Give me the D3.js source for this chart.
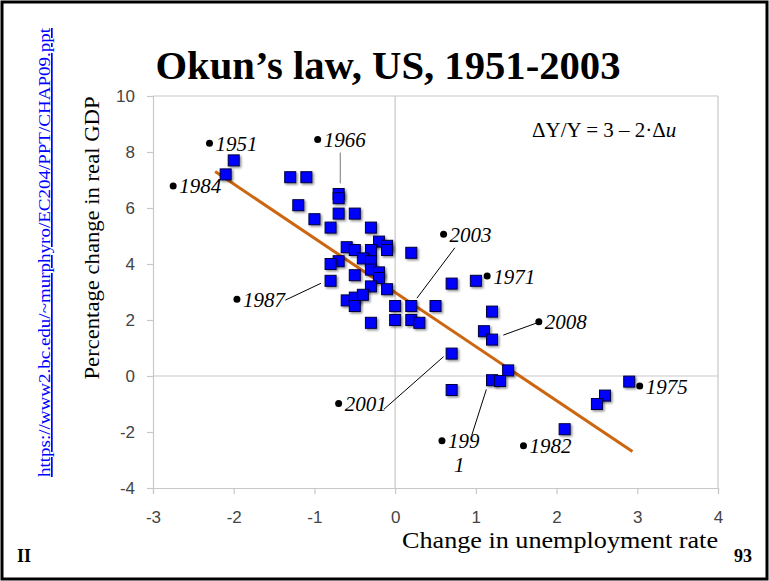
<!DOCTYPE html>
<html>
<head>
<meta charset="utf-8">
<script src="https://cdn.jsdelivr.net/npm/d3@7"></script>
<style>
  body { margin: 0; background: #fff; }
  svg { display: block; }
</style>
</head>
<body>
<script>
// change in unemployment rate (x) vs percentage change in real GDP (y)
var duRate = [-2.0, -2.1, -1.3, -1.1, -0.7, -0.7, -1.2, -0.7, -0.5, -1.0,
              -0.8, -0.3, -0.2, -0.1, -0.1, -0.6, -0.5, -0.3, 0.2, -0.4,
              -0.3, -0.7, -0.8, -0.3, -0.2, -0.2, -0.5, -0.8, -0.3, -0.1,
              -0.6, -0.5, -0.5, -0.4, 0.0, 0.2, -0.3, 0.0, 0.2, 0.3,
              0.7, 1.0, 0.5, 1.2, 1.1, 1.2, 0.7, 1.4, 1.2, 1.3,
              0.7, 2.9, 2.6, 2.5, 2.1]
var gdpGrowth = [7.7, 7.2, 7.1, 7.1, 6.5, 6.35, 6.1, 5.8, 5.8, 5.6,
                 5.3, 5.3, 4.8, 4.65, 4.5, 4.6, 4.5, 4.5, 4.4, 4.2,
                 4.1, 4.1, 4.0, 3.8, 3.7, 3.5, 3.6, 3.4, 3.2, 3.1,
                 2.7, 2.8, 2.5, 2.9, 2.5, 2.5, 1.9, 2.0, 2.0, 1.9,
                 3.3, 3.4, 2.5, 2.3, 1.6, 1.3, 0.8, 0.2, -0.15, -0.18,
                 -0.5, -0.2, -0.7, -1.0, -1.9]

// fitted line ends
var trendX = [-2.23, 2.94]
var trendY = [7.3, -2.7]

// labelled years: dot position and leader line (data units)
var yearNames = ['1951', '1984', '1966', '1987', '2003', '1971', '2008', '2001', '1975', '199', '1982']
var yearX = [-2.3, -2.75, -0.96, -1.96, 0.6, 1.14, 1.78, -0.7, 3.03, 0.58, 1.59]
var yearY = [8.31, 6.79, 8.45, 2.74, 5.06, 3.57, 1.94, -0.98, -0.36, -2.31, -2.49]
var leaders = [
  { x1: -0.68, y1: 7.98, x2: -0.68, y2: 6.88, c: '#777' },
  { x1: -1.36, y1: 2.71, x2: -0.92, y2: 3.31, c: '#000' },
  { x1: 0.74, y1: 4.58, x2: 0.27, y2: 2.78, c: '#000' },
  { x1: 1.76, y1: 1.90, x2: 1.34, y2: 1.46, c: '#000' },
  { x1: -0.14, y1: -1.19, x2: 0.6, y2: 0.69, c: '#000' },
  { x1: 0.95, y1: -2.11, x2: 1.13, y2: -0.48, c: '#000' }
]

var xTicks = [-3, -2, -1, 0, 1, 2, 3, 4]
var yTicks = [-4, -2, 0, 2, 4, 6, 8, 10]

var W = 769, H = 581
var serif = '"Liberation Serif", "DejaVu Serif", serif'
var sans = '"Liberation Sans", Arial, sans-serif'

var svg = d3.select('body').append('svg').attr('width', W).attr('height', H)

var defs = svg.append('defs')
var f = defs.append('filter').attr('id', 'sh').attr('x', '-50%').attr('y', '-50%').attr('width', '200%').attr('height', '200%')
f.append('feDropShadow').attr('dx', 1.5).attr('dy', 1.5).attr('stdDeviation', 1)
  .attr('flood-color', '#000').attr('flood-opacity', 0.45)

// slide frame
svg.append('rect').attr('x', 2).attr('y', 2).attr('width', W - 4).attr('height', H - 4)
  .attr('fill', 'none').attr('stroke', '#000').attr('stroke-width', 3)

var x = d3.scaleLinear().domain([-3, 4]).range([153, 718])
var y = d3.scaleLinear().domain([-4, 10]).range([488, 96])

// plot frame and zero lines
var grid = svg.append('g').attr('stroke', '#c8c8c8').attr('stroke-width', 1.2)
grid.append('line').attr('x1', x(-3)).attr('x2', x(4)).attr('y1', y(10)).attr('y2', y(10))
grid.append('line').attr('x1', x(4)).attr('x2', x(4)).attr('y1', y(10)).attr('y2', y(-4))
grid.append('line').attr('x1', x(0)).attr('x2', x(0)).attr('y1', y(10)).attr('y2', y(-4))
grid.append('line').attr('x1', x(-3)).attr('x2', x(4)).attr('y1', y(0)).attr('y2', y(0))

var plain = function (d) { return String(d) }
var gx = svg.append('g').attr('transform', 'translate(0,' + y(-4) + ')')
  .call(d3.axisBottom(x).tickValues(xTicks).tickSize(6).tickPadding(17).tickFormat(plain))
var gy = svg.append('g').attr('transform', 'translate(' + x(-3) + ',0)')
  .call(d3.axisLeft(y).tickValues(yTicks).tickSize(6).tickPadding(12).tickFormat(plain))
;[gx, gy].forEach(function (g) {
  g.select('.domain').attr('stroke', '#c8c8c8').attr('stroke-width', 1.2)
  g.selectAll('.tick line').attr('stroke', '#c8c8c8').attr('stroke-width', 1.2)
  g.selectAll('.tick text').attr('fill', '#444').style('font-family', sans).style('font-size', '17px')
})

// trend line
svg.append('line')
  .attr('x1', x(trendX[0])).attr('y1', y(trendY[0]))
  .attr('x2', x(trendX[1])).attr('y2', y(trendY[1]))
  .attr('stroke', '#cc6611').attr('stroke-width', 3)

// data squares
var s = 11
svg.append('g').selectAll('rect').data(d3.range(duRate.length))
  .enter().append('rect')
  .attr('x', function (i) { return x(duRate[i]) - s / 2 })
  .attr('y', function (i) { return y(gdpGrowth[i]) - s / 2 })
  .attr('width', s).attr('height', s)
  .attr('fill', '#0000ff').attr('stroke', '#000040').attr('stroke-width', 1)
  .attr('filter', 'url(#sh)')

// leader lines
svg.append('g').selectAll('line').data(leaders).enter().append('line')
  .attr('x1', function (d) { return x(d.x1) }).attr('y1', function (d) { return y(d.y1) })
  .attr('x2', function (d) { return x(d.x2) }).attr('y2', function (d) { return y(d.y2) })
  .attr('stroke', function (d) { return d.c }).attr('stroke-width', 1)

// year dots and labels
var yl = svg.append('g').selectAll('g').data(d3.range(yearNames.length)).enter().append('g')
  .attr('transform', function (i) { return 'translate(' + x(yearX[i]) + ',' + y(yearY[i]) + ')' })
yl.append('circle').attr('r', 3.5).attr('fill', '#000')
yl.append('text').attr('x', 6).attr('y', 7.5)
  .style('font-family', serif).style('font-style', 'italic').style('font-size', '21px').attr('fill', '#000')
  .text(function (i) { return yearNames[i] })
yl.filter(function (i) { return yearNames[i] === '199' }).append('text')
  .attr('x', 12).attr('y', 31)
  .style('font-family', serif).style('font-style', 'italic').style('font-size', '21px')
  .text('1')

// equation
var eq = svg.append('text').attr('x', 532).attr('y', 137)
  .style('font-family', serif).style('font-size', '21px')
eq.append('tspan').text('ΔY/Y = 3 – 2·Δ')
eq.append('tspan').style('font-style', 'italic').text('u')

// title
svg.append('text').attr('x', 388).attr('y', 79).attr('text-anchor', 'middle')
  .style('font-family', serif).style('font-weight', 'bold').style('font-size', '40px')
  .attr('textLength', 465).attr('lengthAdjust', 'spacingAndGlyphs')
  .text('Okun’s law, US, 1951-2003')

// axis titles
svg.append('text').attr('transform', 'translate(99,238) rotate(-90)').attr('text-anchor', 'middle')
  .style('font-family', serif).style('font-size', '22px')
  .attr('textLength', 283).attr('lengthAdjust', 'spacingAndGlyphs')
  .text('Percentage change in real GDP')
svg.append('text').attr('x', 718).attr('y', 548).attr('text-anchor', 'end')
  .style('font-family', serif).style('font-size', '24px')
  .attr('textLength', 316).attr('lengthAdjust', 'spacingAndGlyphs')
  .text('Change in unemployment rate')

// source link
svg.append('text').attr('transform', 'translate(50,477) rotate(-90)')
  .attr('textLength', 449).attr('lengthAdjust', 'spacingAndGlyphs')
  .style('font-family', serif).style('font-size', '17px').style('text-decoration', 'underline')
  .attr('fill', '#0000ff')
  .text('https://www2.bc.edu/~murphyro/EC204/PPT/CHAP09.ppt')

// slide corners
svg.append('text').attr('x', 17).attr('y', 562)
  .style('font-family', serif).style('font-weight', 'bold').style('font-size', '18px').text('II')
svg.append('text').attr('x', 734).attr('y', 562)
  .style('font-family', serif).style('font-weight', 'bold').style('font-size', '18px').text('93')
</script>
</body>
</html>
